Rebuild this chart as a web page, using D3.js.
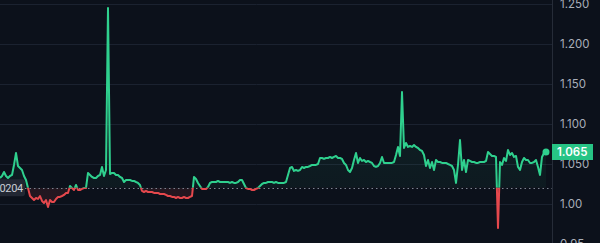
<!DOCTYPE html>
<html>
<head>
<meta charset="utf-8">
<script src="https://cdn.jsdelivr.net/npm/d3@7"></script>
<style>
  html, body { margin: 0; padding: 0; background: #0c111b; overflow: hidden; }
  svg { display: block; }
</style>
</head>
<body>
<svg id="chart" width="600" height="243"></svg>
<script>
// ---- data ----
const prices = [
  1.0325,1.035,1.040,1.035,1.0325,1.035,1.0363,1.0488,1.0638,1.0475,
  1.045,1.0425,1.035,1.030,1.020,1.010,1.0075,1.005,1.0075,1.0063,
  1.010,1.0038,1.0013,1.005,0.9963,1.005,1.0025,1.0025,1.0063,1.0088,
  1.0088,1.010,1.0113,1.0138,1.0138,1.0225,1.020,1.0175,1.0238,1.0175,
  1.0175,1.0188,1.020,1.020,1.0388,1.0363,1.0338,1.0325,1.0325,1.035,
  1.0363,1.0463,1.035,1.0425,1.245,1.0375,1.0388,1.0388,1.0363,1.0363,
  1.0338,1.0325,1.0275,1.030,1.030,1.030,1.0288,1.0288,1.0275,1.0263,
  1.0238,1.0163,1.015,1.0163,1.015,1.015,1.015,1.0138,1.0138,1.0138,
  1.0125,1.0125,1.0125,1.0113,1.010,1.010,1.0088,1.0088,1.0075,1.0088,
  1.0075,1.0075,1.0088,1.0075,1.0075,1.0088,1.010,1.0338,1.0313,1.0263,
  1.0225,1.0188,1.0188,1.0188,1.0213,1.0263,1.0275,1.0275,1.0275,1.0288,
  1.0275,1.0275,1.0275,1.0275,1.0275,1.0263,1.0275,1.0263,1.0263,1.0275,
  1.030,1.030,1.025,1.020,1.0188,1.0188,1.0175,1.0175,1.0188,1.020,
  1.0225,1.025,1.0263,1.0263,1.0275,1.0275,1.0275,1.0263,1.0275,1.0263,
  1.0263,1.0263,1.0263,1.0275,1.0363,1.045,1.0463,1.0413,1.0425,1.0413,
  1.0425,1.0463,1.045,1.0463,1.0463,1.0475,1.0488,1.0488,1.0488,1.050,
  1.0575,1.0575,1.0563,1.0575,1.0575,1.0588,1.0575,1.0588,1.060,1.0575,
  1.0575,1.0563,1.0513,1.0488,1.0425,1.040,1.045,1.055,1.0638,1.0513,
  1.0575,1.0538,1.055,1.0525,1.0538,1.0525,1.0513,1.0475,1.0463,1.0475,
  1.0513,1.0588,1.0513,1.0513,1.0513,1.0513,1.0513,1.0525,1.0613,1.0713,
  1.060,1.140,1.070,1.0763,1.0713,1.0725,1.0713,1.0738,1.0713,1.070,
  1.0675,1.0663,1.0613,1.0475,1.055,1.045,1.0525,1.0425,1.055,1.0525,
  1.0525,1.0513,1.0513,1.0513,1.050,1.0488,1.0475,1.0425,1.0263,1.0488,
  1.080,1.0425,1.055,1.040,1.055,1.0538,1.0525,1.0525,1.0513,1.0513,
  1.0525,1.0525,1.0525,1.0538,1.065,1.0625,1.060,1.060,1.0588,0.970,
  1.0525,1.0488,1.0575,1.0538,1.0675,1.0613,1.0638,1.0588,1.060,1.0463,
  1.0425,1.0525,1.0575,1.055,1.055,1.0513,1.0513,1.0525,1.055,1.0463,
  1.0363,1.0588,1.0638,1.065
];
const baseValue = 1.0204;
const baseLabel = "1.0204";
const lastLabel = "1.065";
const tickValues = [1.25, 1.20, 1.15, 1.10, 1.05, 1.00, 0.95];
const tickLabels = ["1.250", "1.200", "1.150", "1.100", "1.050", "1.00", "0.95"];

// ---- layout ----
const W = 600, H = 243;
const plotRight = 552;
const green = "#2fd08e", red = "#e5484d";

const svg = d3.select("#chart");
const x = d3.scaleLinear().domain([0, prices.length - 1]).range([0, 546]);
const y = d3.scaleLinear().domain([0.95, 1.25]).range([244, 4]);
const yBase = y(baseValue);

// grid
svg.append("g").selectAll("line").data(tickValues).join("line")
  .attr("x1", 0).attr("x2", plotRight)
  .attr("y1", d => Math.round(y(d)) + 0.5).attr("y2", d => Math.round(y(d)) + 0.5)
  .attr("stroke", "#1b2230").attr("stroke-width", 1);

// clips
const defs = svg.append("defs");
defs.append("clipPath").attr("id", "above").append("rect")
  .attr("x", 0).attr("y", 0).attr("width", plotRight).attr("height", yBase);
defs.append("clipPath").attr("id", "below").append("rect")
  .attr("x", 0).attr("y", yBase).attr("width", plotRight).attr("height", H - yBase);
const gUp = defs.append("linearGradient").attr("id", "gUp").attr("x1", 0).attr("x2", 0).attr("y1", 0).attr("y2", 1);
gUp.append("stop").attr("offset", "0%").attr("stop-color", green).attr("stop-opacity", 0.12);
gUp.append("stop").attr("offset", "100%").attr("stop-color", green).attr("stop-opacity", 0.03);
const gDn = defs.append("linearGradient").attr("id", "gDn").attr("x1", 0).attr("x2", 0).attr("y1", 0).attr("y2", 1);
gDn.append("stop").attr("offset", "0%").attr("stop-color", red).attr("stop-opacity", 0.03);
gDn.append("stop").attr("offset", "100%").attr("stop-color", red).attr("stop-opacity", 0.12);

const area = d3.area().x((d, i) => x(i)).y0(yBase).y1(d => y(d));
const line = d3.line().x((d, i) => x(i)).y(d => y(d));

svg.append("path").datum(prices).attr("d", area).attr("fill", "url(#gUp)").attr("clip-path", "url(#above)");
svg.append("path").datum(prices).attr("d", area).attr("fill", "url(#gDn)").attr("clip-path", "url(#below)");

// baseline dotted
svg.append("line").attr("x1", 25).attr("x2", plotRight)
  .attr("y1", Math.round(yBase) + 0.5).attr("y2", Math.round(yBase) + 0.5)
  .attr("stroke", "#7d8491").attr("stroke-width", 1).attr("stroke-dasharray", "1.5,3");

svg.append("path").datum(prices).attr("d", line).attr("fill", "none")
  .attr("stroke", green).attr("stroke-width", 2).attr("stroke-linejoin", "round")
  .attr("clip-path", "url(#above)");
svg.append("path").datum(prices).attr("d", line).attr("fill", "none")
  .attr("stroke", red).attr("stroke-width", 2).attr("stroke-linejoin", "round")
  .attr("clip-path", "url(#below)");

// last point dot
const lastI = prices.length - 1;
svg.append("circle").attr("cx", x(lastI)).attr("cy", y(prices[lastI])).attr("r", 3.5).attr("fill", green);

// axis separator
svg.append("line").attr("x1", plotRight + 0.5).attr("x2", plotRight + 0.5)
  .attr("y1", 0).attr("y2", H).attr("stroke", "#262c38").attr("stroke-width", 1);

// right axis
const axis = d3.axisRight(y).tickValues(tickValues)
  .tickFormat((d, i) => tickLabels[i]).tickSize(0).tickPadding(8);
const ga = svg.append("g").attr("transform", `translate(${plotRight},0)`).call(axis);
ga.select(".domain").remove();
ga.selectAll("text").attr("fill", "#a9aeb9").attr("font-size", 11.5)
  .attr("font-family", "Inter, 'Noto Sans', sans-serif");

// price label box
const py = y(prices[lastI]);
svg.append("rect").attr("x", plotRight).attr("y", py - 8).attr("width", 41).attr("height", 16)
  .attr("fill", "#27c485");
svg.append("text").attr("x", plotRight + 5).attr("y", py).attr("dy", "0.35em")
  .attr("fill", "#ffffff").attr("font-size", 11.5).attr("font-weight", 600)
  .attr("font-family", "Inter, 'Noto Sans', sans-serif").text(lastLabel);

// baseline label
svg.append("rect").attr("x", -20).attr("y", yBase - 8.5).attr("width", 45).attr("height", 17).attr("rx", 3)
  .attr("fill", "#222733");
svg.append("text").attr("x", 23).attr("y", yBase).attr("dy", "0.35em").attr("text-anchor", "end")
  .attr("fill", "#c9ccd4").attr("font-size", 11).attr("letter-spacing", -0.3)
  .attr("font-family", "Roboto, 'Noto Sans', sans-serif").text(baseLabel);
</script>
</body>
</html>
